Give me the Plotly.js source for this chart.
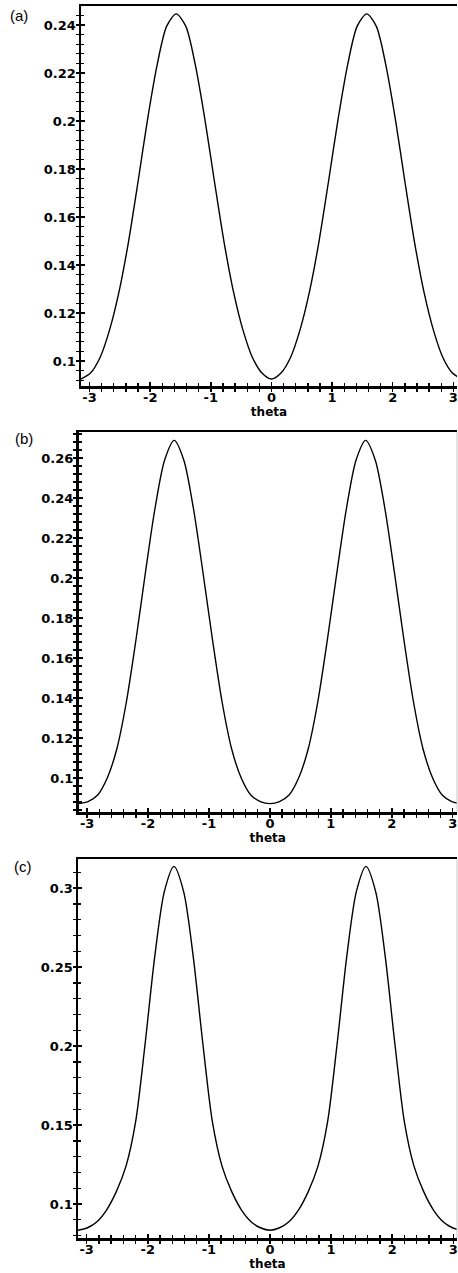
<!DOCTYPE html>
<html>
<head>
<meta charset="utf-8">
<script src="https://cdn.plot.ly/plotly-3.0.1.min.js"></script>
<style>
html,body{margin:0;padding:0;overflow:hidden;background:#fff;}
#chart{width:458px;height:1273px;}
</style>
</head>
<body>
<div id="chart"></div>
<script>
// ---- data ----
const theta = [-3.142, -2.985, -2.827, -2.670, -2.513, -2.356, -2.199, -2.042, -1.885, -1.728,
  -1.571, -1.414, -1.257, -1.100, -0.942, -0.785, -0.628, -0.471, -0.314, -0.157,
  0.000, 0.157, 0.314, 0.471, 0.628, 0.785, 0.942, 1.100, 1.257, 1.414,
  1.571, 1.728, 1.885, 2.042, 2.199, 2.356, 2.513, 2.670, 2.827, 2.985, 3.142];

const valuesA = [0.0925, 0.0950, 0.1015, 0.1130, 0.1290, 0.1500, 0.1750, 0.2010, 0.2235, 0.2395,
  0.2446, 0.2395, 0.2235, 0.2010, 0.1750, 0.1500, 0.1290, 0.1130, 0.1015, 0.0950,
  0.0925, 0.0950, 0.1015, 0.1130, 0.1290, 0.1500, 0.1750, 0.2010, 0.2235, 0.2395,
  0.2446, 0.2395, 0.2235, 0.2010, 0.1750, 0.1500, 0.1290, 0.1130, 0.1015, 0.0950, 0.0925];

const valuesB = [0.0872, 0.0882, 0.0915, 0.1000, 0.1145, 0.1380, 0.1690, 0.2030, 0.2350, 0.2590,
  0.2688, 0.2590, 0.2350, 0.2030, 0.1690, 0.1380, 0.1145, 0.1000, 0.0915, 0.0882,
  0.0872, 0.0882, 0.0915, 0.1000, 0.1145, 0.1380, 0.1690, 0.2030, 0.2350, 0.2590,
  0.2688, 0.2590, 0.2350, 0.2030, 0.1690, 0.1380, 0.1145, 0.1000, 0.0915, 0.0882, 0.0872];

const valuesC = [0.0834, 0.0850, 0.0890, 0.0965, 0.1080, 0.1240, 0.1520, 0.2020, 0.2570, 0.2980,
  0.3138, 0.2980, 0.2570, 0.2020, 0.1520, 0.1240, 0.1080, 0.0965, 0.0890, 0.0850,
  0.0834, 0.0850, 0.0890, 0.0965, 0.1080, 0.1240, 0.1520, 0.2020, 0.2570, 0.2980,
  0.3138, 0.2980, 0.2570, 0.2020, 0.1520, 0.1240, 0.1080, 0.0965, 0.0890, 0.0850, 0.0834];

const xTickVals = [-3, -2, -1, 0, 1, 2, 3];
const xTickText = ['-3', '-2', '-1', '0', '1', '2', '3'];
const panelLabels = ['(a)', '(b)', '(c)'];
const xTitle = 'theta';

// ---- layout geometry (pixels) ----
const W = 458, H = 1273;
const px = p => p / W;
const py = p => 1 - p / H;

const panels = [
  {vals: valuesA, xl: 81, xr: 457, yt: 6, yb: 386, xr1: 3.06, yr: [0.0896, 0.2479], tick0: 0.1, dtick: 0.02, minor: 0.004, lab: [19, 16], right: false},
  {vals: valuesB, xl: 78.5, xr: 457, yt: 432, yb: 812, xr1: 3.07, yr: [0.083, 0.273], tick0: 0.1, dtick: 0.02, minor: 0.004, lab: [24, 439], right: true},
  {vals: valuesC, xl: 78, xr: 457, yt: 859, yb: 1238, xr1: 3.06, yr: [0.0785, 0.3185], tick0: 0.1, dtick: 0.05, minor: 0.01, lab: [23, 866], right: true}
];

const tickFont = {family: 'DejaVu Sans', size: 13, weight: 'bold', color: '#000'};
const traces = [];
const layout = {
  width: W, height: H,
  margin: {l: 0, r: 0, t: 0, b: 0, pad: 0},
  paper_bgcolor: '#fff', plot_bgcolor: '#fff',
  showlegend: false,
  annotations: [], shapes: []
};

panels.forEach((p, i) => {
  const n = i + 1, m = i + 4;
  const xs = n === 1 ? '' : String(n);
  traces.push({
    x: theta, y: p.vals, type: 'scatter', mode: 'lines',
    line: {color: '#000', width: 1.4, shape: 'spline', smoothing: 0.8},
    xaxis: 'x' + xs, yaxis: 'y' + xs, hoverinfo: 'skip'
  });
  traces.push({x: [], y: [], type: 'scatter', mode: 'lines', xaxis: 'x' + m, yaxis: 'y' + m, hoverinfo: 'skip'});

  const xrange = [-Math.PI, p.xr1];
  const xdom = [px(p.xl), px(p.xr)];
  const ydom = [py(p.yb), py(p.yt)];

  layout['xaxis' + xs] = {
    domain: xdom, range: xrange, anchor: 'y' + xs,
    showline: true, linecolor: '#000', linewidth: 2.5, mirror: true,
    showgrid: false, zeroline: false,
    tickmode: 'array', tickvals: xTickVals, ticktext: xTickText,
    ticks: 'outside', ticklen: 3, tickwidth: 1.5, tickcolor: '#000',
    minor: {tickmode: 'linear', tick0: 0, dtick: 0.2, ticks: 'outside', ticklen: 3, tickwidth: 1.3, tickcolor: '#000', showgrid: false},
    tickfont: tickFont, ticklabeloverflow: 'allow', ticklabelstandoff: -5,
    title: {text: xTitle, font: {family: 'DejaVu Sans', size: 12, weight: 'bold', color: '#000'}, standoff: 1}
  };
  layout['yaxis' + xs] = {
    domain: ydom, range: p.yr, anchor: 'x' + xs,
    showline: true, linecolor: '#000', linewidth: 2.5,
    showgrid: false, zeroline: false,
    tickmode: 'linear', tick0: p.tick0, dtick: p.dtick,
    ticks: 'outside', ticklen: 3, tickwidth: 1.5, tickcolor: '#000',
    minor: {tickmode: 'linear', tick0: p.tick0, dtick: p.minor, ticks: 'outside', ticklen: 3, tickwidth: 1.3, tickcolor: '#000', showgrid: false},
    tickfont: tickFont, ticklabelstandoff: -3
  };
  // overlay axes give the ticks their inner half
  layout['xaxis' + m] = {
    overlaying: 'x' + xs, anchor: 'y' + m, range: xrange,
    showline: false, showgrid: false, zeroline: false, showticklabels: false,
    tickmode: 'array', tickvals: xTickVals,
    ticks: 'inside', ticklen: 4, tickwidth: 1.5, tickcolor: '#000',
    minor: {tickmode: 'linear', tick0: 0, dtick: 0.2, ticks: 'inside', ticklen: 3, tickwidth: 1.3, tickcolor: '#000', showgrid: false}
  };
  layout['yaxis' + m] = {
    overlaying: 'y' + xs, anchor: 'x' + m, range: p.yr,
    showline: false, showgrid: false, zeroline: false, showticklabels: false,
    tickmode: 'linear', tick0: p.tick0, dtick: p.dtick,
    ticks: 'inside', ticklen: 4, tickwidth: 1.5, tickcolor: '#000',
    minor: {tickmode: 'linear', tick0: p.tick0, dtick: p.minor, ticks: 'inside', ticklen: 3, tickwidth: 1.3, tickcolor: '#000', showgrid: false}
  };

  layout.annotations.push({
    text: panelLabels[i], xref: 'paper', yref: 'paper',
    x: px(p.lab[0]), y: py(p.lab[1]), xanchor: 'center', yanchor: 'middle',
    showarrow: false, font: {family: 'Liberation Sans', size: 15, color: '#000'}
  });
  if (p.right) {
    layout.shapes.push({
      type: 'line', xref: 'x' + xs + ' domain', yref: 'y' + xs + ' domain',
      x0: 1, x1: 1, y0: 0, y1: 1, line: {color: '#c8c8c8', width: 1}
    });
  }
});

Plotly.newPlot('chart', traces, layout, {staticPlot: true, displayModeBar: false});
</script>
</body>
</html>
